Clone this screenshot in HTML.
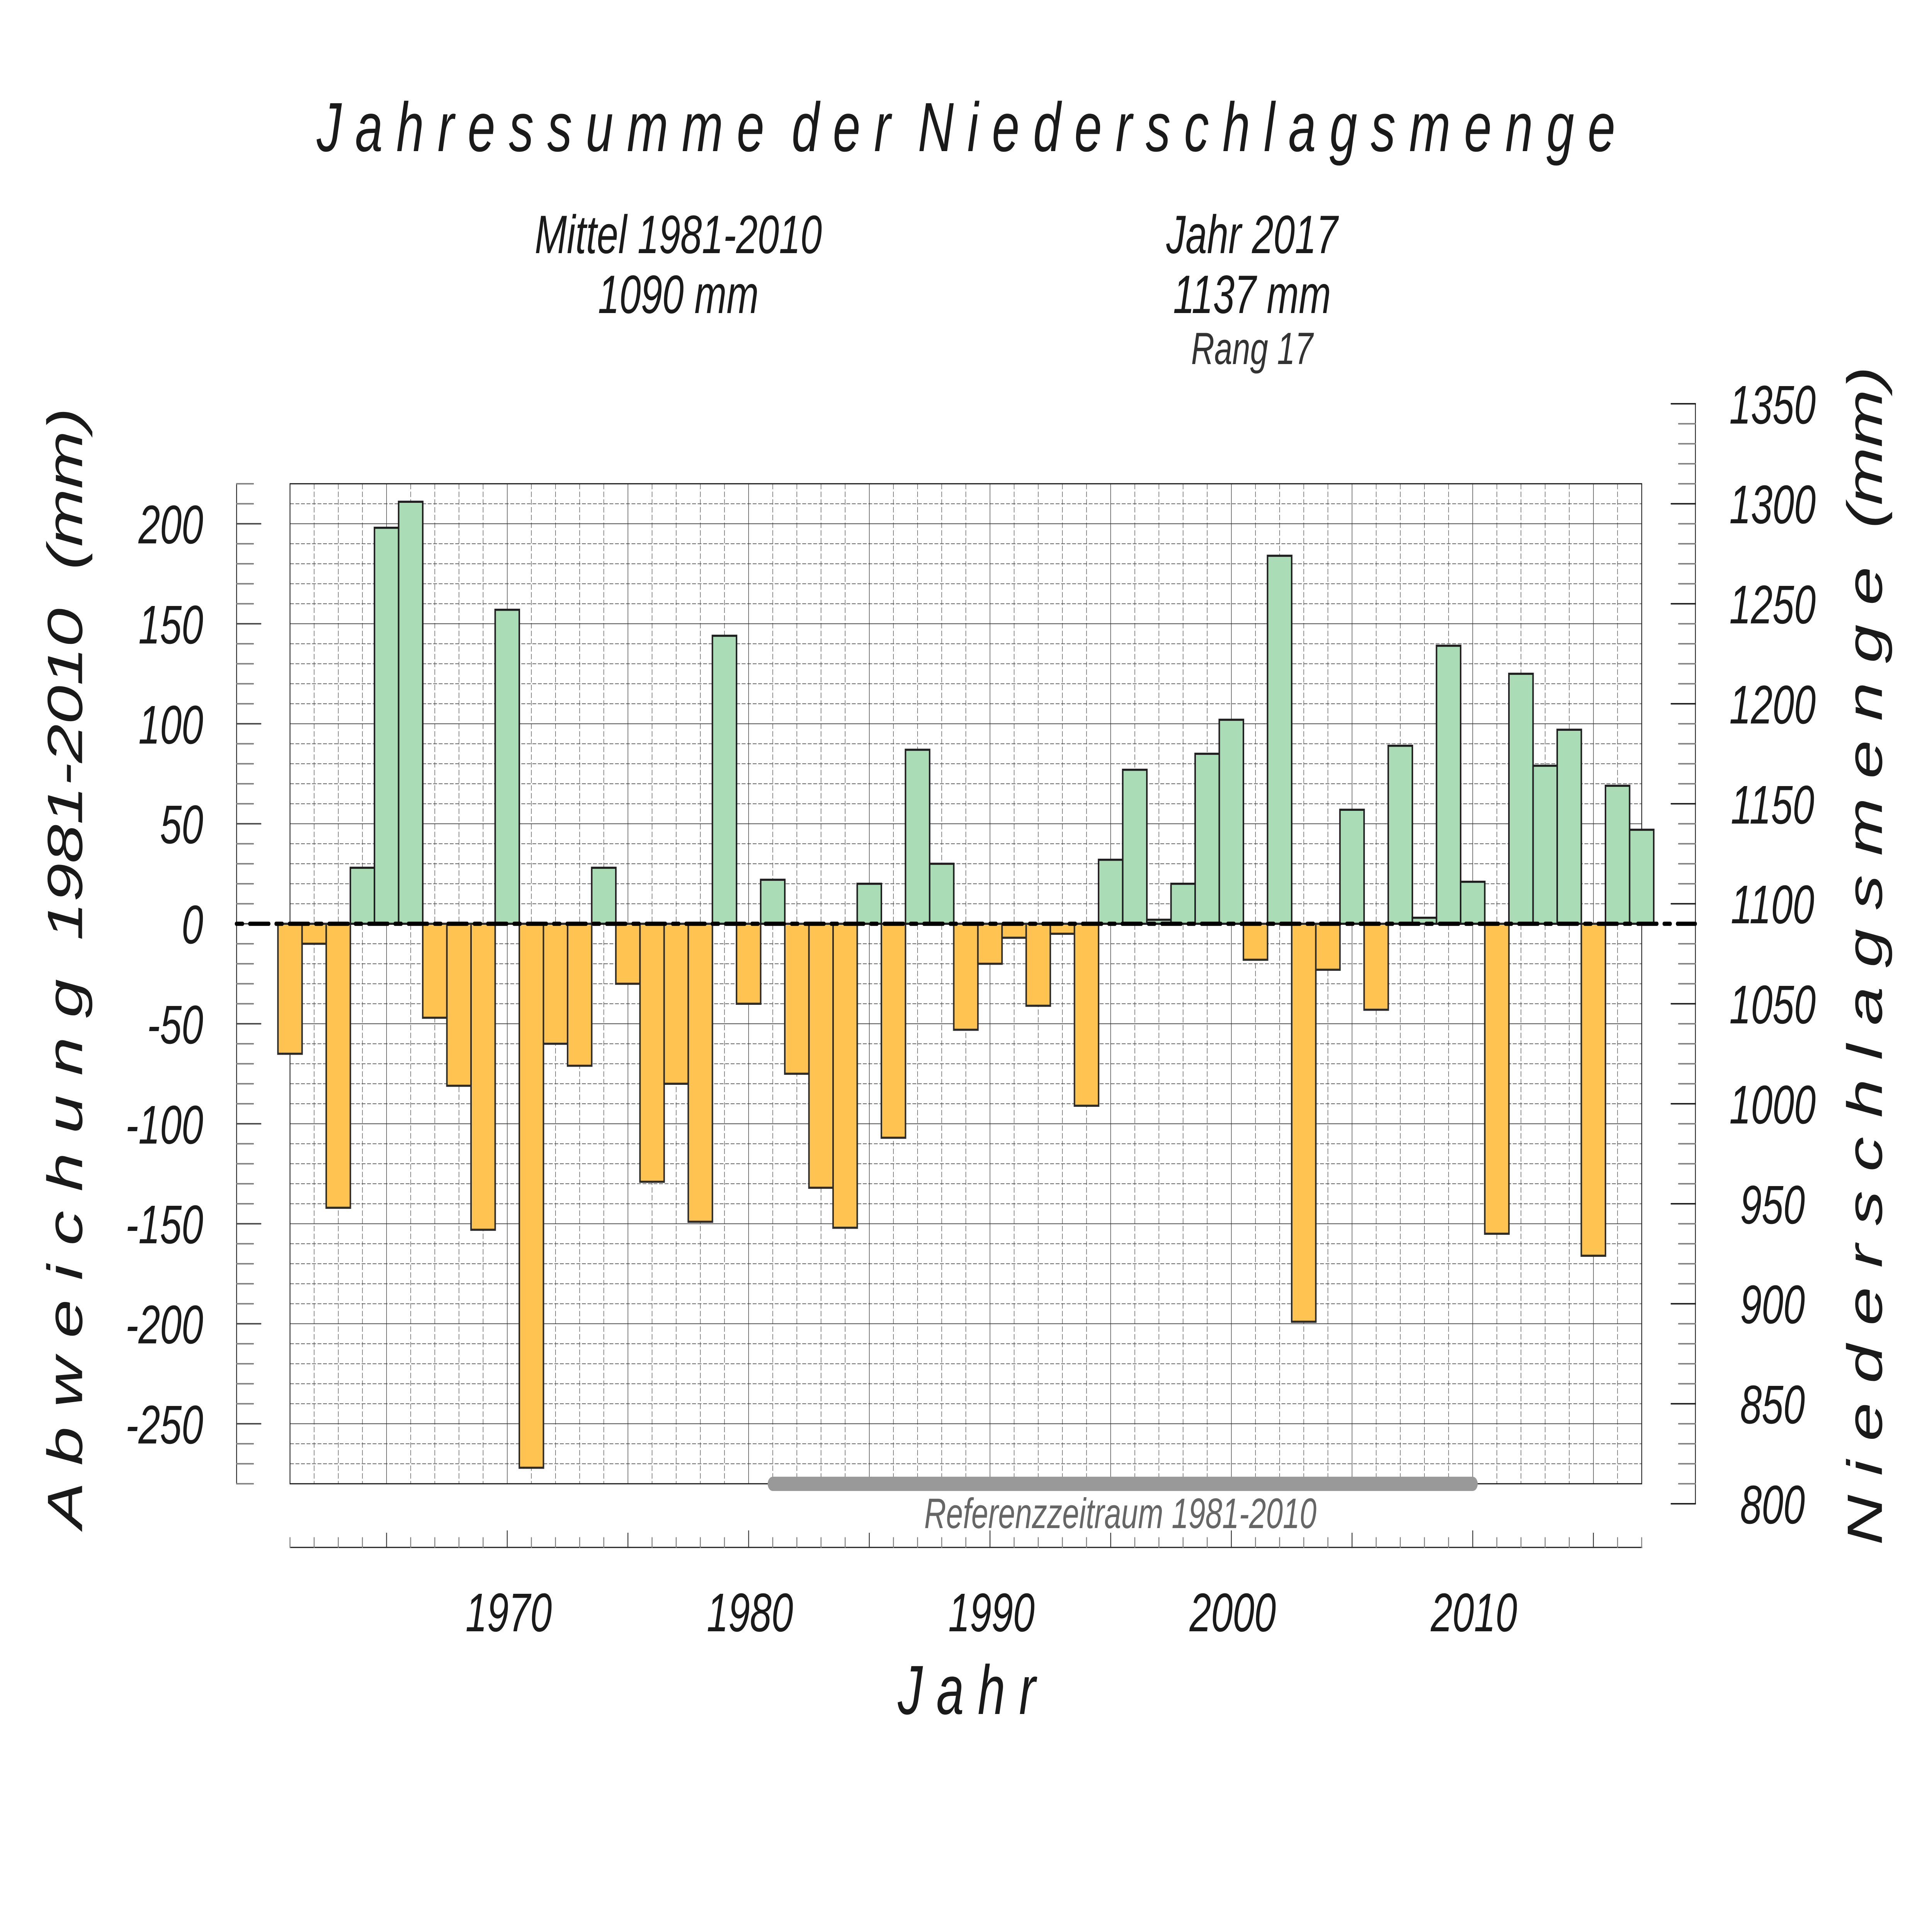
<!DOCTYPE html>
<html>
<head>
<meta charset="utf-8">
<style>
html,body{margin:0;padding:0;background:#fff;width:100%;height:100%;overflow:hidden;}
svg{display:block;width:100vw;height:100vh;}
text{font-family:"Liberation Sans",Arial,sans-serif;font-style:italic;fill:#1a1a1a;}
</style>
</head>
<body>
<svg xmlns="http://www.w3.org/2000/svg" viewBox="0 0 7015 4937" preserveAspectRatio="none">
<rect x="0" y="0" width="7015" height="4937" fill="#fff"/>

<!-- grid: dashed verticals -->
<path fill="none" stroke="#4d4d4d" stroke-width="1.8" stroke-dasharray="14 6" d="
M1140.6 1252V3839 M1228.3 1252V3839 M1315.9 1252V3839 M1491.2 1252V3839 M1578.8 1252V3839 M1666.5 1252V3839 M1754.1 1252V3839
M1929.4 1252V3839 M2017.0 1252V3839 M2104.7 1252V3839 M2192.3 1252V3839 M2367.6 1252V3839 M2455.2 1252V3839 M2542.9 1252V3839
M2630.5 1252V3839 M2805.8 1252V3839 M2893.4 1252V3839 M2981.1 1252V3839 M3068.7 1252V3839 M3244.0 1252V3839 M3331.6 1252V3839
M3419.3 1252V3839 M3506.9 1252V3839 M3682.2 1252V3839 M3769.8 1252V3839 M3857.5 1252V3839 M3945.1 1252V3839 M4120.4 1252V3839
M4208.0 1252V3839 M4295.7 1252V3839 M4383.3 1252V3839 M4558.6 1252V3839 M4646.2 1252V3839 M4733.9 1252V3839 M4821.5 1252V3839
M4996.8 1252V3839 M5084.4 1252V3839 M5172.1 1252V3839 M5259.7 1252V3839 M5435.0 1252V3839 M5522.6 1252V3839 M5610.3 1252V3839
M5697.9 1252V3839 M5873.2 1252V3839"/>
<!-- grid: dashed horizontals -->
<path fill="none" stroke="#4d4d4d" stroke-width="1.8" stroke-dasharray="14 6" d="
M1053 1303.5H5961 M1053 1407.0H5961 M1053 1458.75H5961 M1053 1510.5H5961 M1053 1562.25H5961
M1053 1665.75H5961 M1053 1717.5H5961 M1053 1769.25H5961 M1053 1821.0H5961
M1053 1924.5H5961 M1053 1976.25H5961 M1053 2028.0H5961 M1053 2079.75H5961
M1053 2183.25H5961 M1053 2235.0H5961 M1053 2286.75H5961 M1053 2338.5H5961
M1053 2442.0H5961 M1053 2493.75H5961 M1053 2545.5H5961 M1053 2597.25H5961
M1053 2700.75H5961 M1053 2752.5H5961 M1053 2804.25H5961 M1053 2856.0H5961
M1053 2959.5H5961 M1053 3011.25H5961 M1053 3063.0H5961 M1053 3114.75H5961
M1053 3218.25H5961 M1053 3270.0H5961 M1053 3321.75H5961 M1053 3373.5H5961
M1053 3477.0H5961 M1053 3528.75H5961 M1053 3580.5H5961 M1053 3632.25H5961
M1053 3735.75H5961 M1053 3787.5H5961"/>
<!-- grid: solid -->
<path fill="none" stroke="#333" stroke-width="1.8" d="
M1403.6 1252V3839 M1841.8 1252V3839 M2280.0 1252V3839 M2718.2 1252V3839 M3156.4 1252V3839 M3594.6 1252V3839
M4032.8 1252V3839 M4471.0 1252V3839 M4909.2 1252V3839 M5347.4 1252V3839 M5785.6 1252V3839
M1053 1355.25H5961 M1053 1614.0H5961 M1053 1872.75H5961 M1053 2131.5H5961 M1053 2390.25H5961
M1053 2649.0H5961 M1053 2907.75H5961 M1053 3166.5H5961 M1053 3425.25H5961 M1053 3684.0H5961"/>

<!-- frame -->
<rect x="1053" y="1251.75" width="4908" height="2587.5" fill="none" stroke="#1a1a1a" stroke-width="3"/>

<!-- negative bars -->
<g fill="#FEC350" stroke="#2b2b2b" stroke-width="5.5">
<rect x="1009.2" y="2390.25" width="87.64" height="336.4"/>
<rect x="1096.8" y="2390.25" width="87.64" height="51.75"/>
<rect x="1184.5" y="2390.25" width="87.64" height="734.9"/>
<rect x="1535.0" y="2390.25" width="87.64" height="243.2"/>
<rect x="1622.7" y="2390.25" width="87.64" height="419.2"/>
<rect x="1710.3" y="2390.25" width="87.64" height="791.8"/>
<rect x="1885.6" y="2390.25" width="87.64" height="1407.6"/>
<rect x="1973.2" y="2390.25" width="87.64" height="310.5"/>
<rect x="2060.9" y="2390.25" width="87.64" height="367.4"/>
<rect x="2236.1" y="2390.25" width="87.64" height="155.25"/>
<rect x="2323.8" y="2390.25" width="87.64" height="667.6"/>
<rect x="2411.4" y="2390.25" width="87.64" height="414"/>
<rect x="2499.1" y="2390.25" width="87.64" height="771.1"/>
<rect x="2674.3" y="2390.25" width="87.64" height="207"/>
<rect x="2849.6" y="2390.25" width="87.64" height="388.1"/>
<rect x="2937.3" y="2390.25" width="87.64" height="683.1"/>
<rect x="3024.9" y="2390.25" width="87.64" height="786.6"/>
<rect x="3200.2" y="2390.25" width="87.64" height="553.7"/>
<rect x="3463.1" y="2390.25" width="87.64" height="274.3"/>
<rect x="3550.7" y="2390.25" width="87.64" height="103.5"/>
<rect x="3638.4" y="2390.25" width="87.64" height="36.2"/>
<rect x="3726.0" y="2390.25" width="87.64" height="212.2"/>
<rect x="3813.7" y="2390.25" width="87.64" height="25.9"/>
<rect x="3901.3" y="2390.25" width="87.64" height="470.9"/>
<rect x="4514.8" y="2390.25" width="87.64" height="93.15"/>
<rect x="4690.1" y="2390.25" width="87.64" height="1029.8"/>
<rect x="4777.7" y="2390.25" width="87.64" height="119.0"/>
<rect x="4953.0" y="2390.25" width="87.64" height="222.5"/>
<rect x="5391.2" y="2390.25" width="87.64" height="802.1"/>
<rect x="5741.7" y="2390.25" width="87.64" height="859.05"/>
</g>
<!-- positive bars -->
<g fill="#AADCB5" stroke="#1e1e1e" stroke-width="5.5">
<rect x="1272.1" y="2245.35" width="87.64" height="144.9"/>
<rect x="1359.7" y="1365.6" width="87.64" height="1024.65"/>
<rect x="1447.4" y="1298.3" width="87.64" height="1091.95"/>
<rect x="1797.9" y="1577.8" width="87.64" height="812.45"/>
<rect x="2148.5" y="2245.35" width="87.64" height="144.9"/>
<rect x="2586.7" y="1645.05" width="87.64" height="745.2"/>
<rect x="2762.0" y="2276.4" width="87.64" height="113.85"/>
<rect x="3112.5" y="2286.75" width="87.64" height="103.5"/>
<rect x="3287.8" y="1940.0" width="87.64" height="450.25"/>
<rect x="3375.5" y="2235.0" width="87.64" height="155.25"/>
<rect x="3988.9" y="2224.65" width="87.64" height="165.6"/>
<rect x="4076.6" y="1991.8" width="87.64" height="398.45"/>
<rect x="4164.2" y="2379.9" width="87.64" height="10.35"/>
<rect x="4251.9" y="2286.75" width="87.64" height="103.5"/>
<rect x="4339.5" y="1950.4" width="87.64" height="439.85"/>
<rect x="4427.1" y="1862.4" width="87.64" height="527.85"/>
<rect x="4602.4" y="1438.05" width="87.64" height="952.2"/>
<rect x="4865.3" y="2095.25" width="87.64" height="295"/>
<rect x="5040.6" y="1929.7" width="87.64" height="460.55"/>
<rect x="5128.3" y="2374.7" width="87.64" height="15.55"/>
<rect x="5215.9" y="1670.9" width="87.64" height="719.35"/>
<rect x="5303.5" y="2281.6" width="87.64" height="108.65"/>
<rect x="5478.8" y="1743.4" width="87.64" height="646.85"/>
<rect x="5566.5" y="1981.4" width="87.64" height="408.85"/>
<rect x="5654.1" y="1888.2" width="87.64" height="502.05"/>
<rect x="5829.4" y="2033.2" width="87.64" height="357.05"/>
<rect x="5917.0" y="2147.0" width="87.64" height="243.25"/>
</g>

<!-- left axis -->
<path d="M859 1250.5V3840.5" stroke="#1a1a1a" stroke-width="3" fill="none"/>
<path fill="none" stroke="#808080" stroke-width="3.8" stroke-linecap="round" d="
M859 1251.75H920 M859 1303.5H920 M859 1407.0H920 M859 1458.75H920 M859 1510.5H920 M859 1562.25H920
M859 1665.75H920 M859 1717.5H920 M859 1769.25H920 M859 1821.0H920
M859 1924.5H920 M859 1976.25H920 M859 2028.0H920 M859 2079.75H920
M859 2183.25H920 M859 2235.0H920 M859 2286.75H920 M859 2338.5H920
M859 2442.0H920 M859 2493.75H920 M859 2545.5H920 M859 2597.25H920
M859 2700.75H920 M859 2752.5H920 M859 2804.25H920 M859 2856.0H920
M859 2959.5H920 M859 3011.25H920 M859 3063.0H920 M859 3114.75H920
M859 3218.25H920 M859 3270.0H920 M859 3321.75H920 M859 3373.5H920
M859 3477.0H920 M859 3528.75H920 M859 3580.5H920 M859 3632.25H920
M859 3735.75H920 M859 3787.5H920 M859 3839.25H920"/>
<path fill="none" stroke="#444" stroke-width="3.8" stroke-linecap="round" d="
M859 1355.25H947 M859 1614.0H947 M859 1872.75H947 M859 2131.5H947 M859 2390.25H947
M859 2649.0H947 M859 2907.75H947 M859 3166.5H947 M859 3425.25H947 M859 3684.0H947"/>

<!-- right axis -->
<path d="M6156 1043.5V3892.5" stroke="#1a1a1a" stroke-width="3" fill="none"/>
<path fill="none" stroke="#808080" stroke-width="3.8" stroke-linecap="round" d="
M6095 3839.25H6156 M6095 3787.5H6156 M6095 3735.75H6156 M6095 3684.0H6156
M6095 3580.5H6156 M6095 3528.75H6156 M6095 3477.0H6156 M6095 3425.25H6156
M6095 3321.75H6156 M6095 3270.0H6156 M6095 3218.25H6156 M6095 3166.5H6156
M6095 3063.0H6156 M6095 3011.25H6156 M6095 2959.5H6156 M6095 2907.75H6156
M6095 2804.25H6156 M6095 2752.5H6156 M6095 2700.75H6156 M6095 2649.0H6156
M6095 2545.5H6156 M6095 2493.75H6156 M6095 2442.0H6156 M6095 2390.25H6156
M6095 2286.75H6156 M6095 2235.0H6156 M6095 2183.25H6156 M6095 2131.5H6156
M6095 2028.0H6156 M6095 1976.25H6156 M6095 1924.5H6156 M6095 1872.75H6156
M6095 1769.25H6156 M6095 1717.5H6156 M6095 1665.75H6156 M6095 1614.0H6156
M6095 1510.5H6156 M6095 1458.75H6156 M6095 1407.0H6156 M6095 1355.25H6156
M6095 1251.75H6156 M6095 1200.0H6156 M6095 1148.25H6156 M6095 1096.5H6156"/>
<path fill="none" stroke="#1a1a1a" stroke-width="3.8" stroke-linecap="round" d="
M6068 3891.0H6156 M6068 3632.25H6156 M6068 3373.5H6156 M6068 3114.75H6156 M6068 2856.0H6156 M6068 2597.25H6156
M6068 2338.5H6156 M6068 2079.75H6156 M6068 1821.0H6156 M6068 1562.25H6156 M6068 1303.5H6156 M6068 1044.75H6156"/>

<!-- bottom axis -->
<path d="M1052 4004H5963" stroke="#1a1a1a" stroke-width="3" fill="none"/>
<path fill="none" stroke="#808080" stroke-width="3.5" stroke-linecap="round" d="
M1053.0 4004V3979 M1140.6 4004V3979 M1228.3 4004V3979 M1315.9 4004V3979 M1491.2 4004V3979 M1578.8 4004V3979 M1666.5 4004V3979 M1754.1 4004V3979
M1929.4 4004V3979 M2017.0 4004V3979 M2104.7 4004V3979 M2192.3 4004V3979 M2367.6 4004V3979 M2455.2 4004V3979 M2542.9 4004V3979
M2630.5 4004V3979 M2805.8 4004V3979 M2893.4 4004V3979 M2981.1 4004V3979 M3068.7 4004V3979 M3244.0 4004V3979 M3331.6 4004V3979
M3419.3 4004V3979 M3506.9 4004V3979 M3682.2 4004V3979 M3769.8 4004V3979 M3857.5 4004V3979 M3945.1 4004V3979 M4120.4 4004V3979
M4208.0 4004V3979 M4295.7 4004V3979 M4383.3 4004V3979 M4558.6 4004V3979 M4646.2 4004V3979 M4733.9 4004V3979 M4821.5 4004V3979
M4996.8 4004V3979 M5084.4 4004V3979 M5172.1 4004V3979 M5259.7 4004V3979 M5435.0 4004V3979 M5522.6 4004V3979 M5610.3 4004V3979
M5697.9 4004V3979 M5873.2 4004V3979 M5960.8 4004V3979"/>
<path fill="none" stroke="#333" stroke-width="3.2" d="
M1403.6 4004V3966 M2280.0 4004V3966 M3156.4 4004V3966 M4032.8 4004V3966 M4909.2 4004V3966 M5785.6 4004V3966
M1841.8 4004V3960 M2718.2 4004V3960 M3594.6 4004V3960 M4471.0 4004V3960 M5347.4 4004V3960"/>

<!-- zero line -->
<path d="M858 2390.25H6156" fill="none" stroke="#000" stroke-width="11" stroke-linecap="round" stroke-dasharray="70 25.5 23 25.5" stroke-dashoffset="95.5"/>

<!-- reference period bar -->
<path d="M2806 3839.5H5347" fill="none" stroke="#999" stroke-width="37" stroke-linecap="round"/>
<text x="4068" y="3954" font-size="110" text-anchor="middle" style="fill:#666">Referenzzeitraum 1981-2010</text>

<!-- left tick labels -->
<g font-size="141" text-anchor="end">
<text x="738" y="1406">200</text>
<text x="738" y="1665">150</text>
<text x="738" y="1924">100</text>
<text x="738" y="2182">50</text>
<text x="738" y="2441">0</text>
<text x="738" y="2700">-50</text>
<text x="738" y="2959">-100</text>
<text x="738" y="3217">-150</text>
<text x="738" y="3476">-200</text>
<text x="738" y="3735">-250</text>
</g>

<!-- right tick labels -->
<g font-size="141" text-anchor="middle">
<text x="6436" y="1096">1350</text>
<text x="6436" y="1354">1300</text>
<text x="6436" y="1613">1250</text>
<text x="6436" y="1872">1200</text>
<text x="6436" y="2131">1150</text>
<text x="6436" y="2389">1100</text>
<text x="6436" y="2648">1050</text>
<text x="6436" y="2907">1000</text>
<text x="6436" y="3166">950</text>
<text x="6436" y="3424">900</text>
<text x="6436" y="3683">850</text>
<text x="6436" y="3942">800</text>
</g>

<!-- x tick labels -->
<g font-size="141" text-anchor="middle">
<text x="1847" y="4221">1970</text>
<text x="2723" y="4221">1980</text>
<text x="3600" y="4221">1990</text>
<text x="4476" y="4221">2000</text>
<text x="5352" y="4221">2010</text>
</g>

<!-- x axis title -->
<text x="3510" y="4435" font-size="180" text-anchor="middle" style="white-space:pre">J a h r</text>

<!-- y axis titles -->
<text transform="translate(298,3955) rotate(-90)" x="0" y="0" font-size="180" style="white-space:pre" textLength="2900" lengthAdjust="spacing">A b w e i c h u n g  1981-2010  (mm)</text>
<text transform="translate(6833,3998) rotate(-90)" x="0" y="0" font-size="180" style="white-space:pre" textLength="3050" lengthAdjust="spacing">N i e d e r s c h l a g s m e n g e  (mm)</text>

<!-- title -->
<text x="1150" y="391" font-size="180" style="white-space:pre" textLength="4715" lengthAdjust="spacing">J a h r e s s u m m e  d e r  N i e d e r s c h l a g s m e n g e</text>

<!-- info text -->
<g font-size="140" text-anchor="middle">
<text x="2463" y="655">Mittel 1981-2010</text>
<text x="2463" y="810">1090 mm</text>
<text x="4546" y="655">Jahr 2017</text>
<text x="4546" y="810">1137 mm</text>
</g>
<text x="4546" y="942" font-size="117" text-anchor="middle" style="fill:#333">Rang 17</text>
</svg>
</body>
</html>
